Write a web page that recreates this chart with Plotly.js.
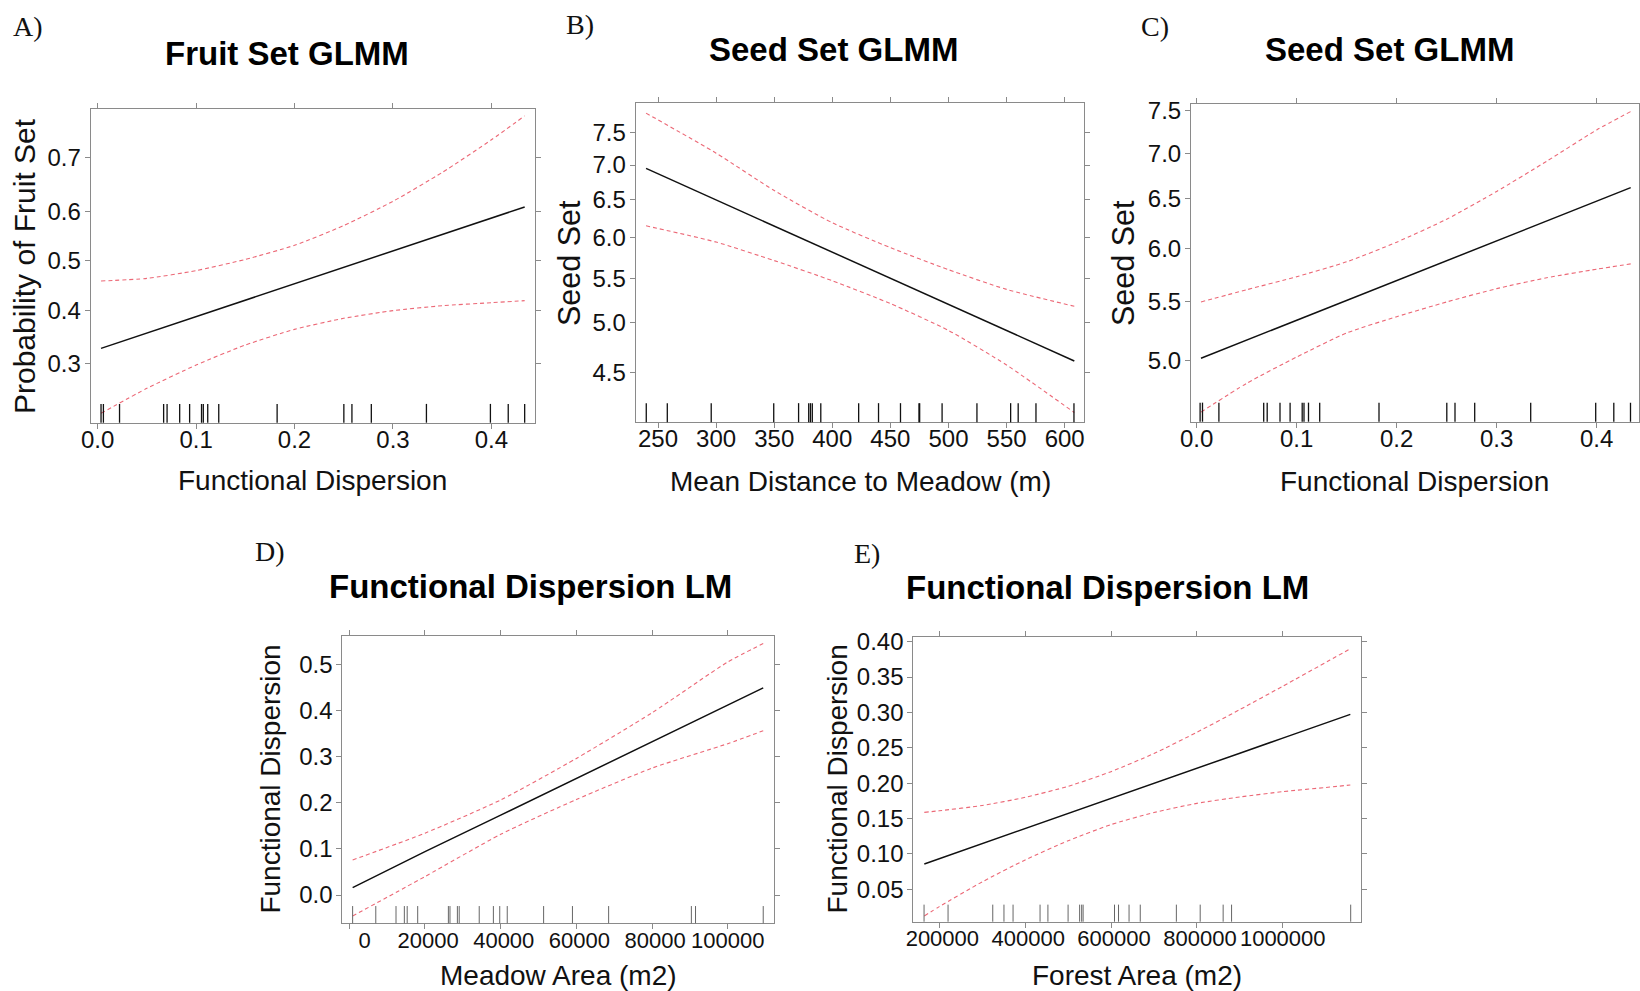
<!DOCTYPE html>
<html><head><meta charset="utf-8">
<script src="https://cdn.plot.ly/plotly-3.0.1.min.js"></script>
<style>html,body{margin:0;padding:0;background:#fff}#chart{width:1640px;height:991px}</style>
</head><body><div id="chart"></div>
<script>
// ---------- Panel A: Fruit Set GLMM vs Functional Dispersion ----------
const fruitX     = [0.0034, 0.05, 0.1, 0.15, 0.2, 0.25, 0.3, 0.35, 0.4, 0.4338];
const fruitFit   = [0.3276, 0.356, 0.3875, 0.420, 0.453, 0.487, 0.5205, 0.554, 0.587, 0.609];
const fruitUpper = [0.4587, 0.4641, 0.480, 0.503, 0.532, 0.572, 0.620, 0.674, 0.730, 0.767];
const fruitLower = [0.2222, 0.2597, 0.2982, 0.3337, 0.3629, 0.3841, 0.3991, 0.4089, 0.4149, 0.419];
const fruitTicks = [0.3, 0.4, 0.5, 0.6, 0.7];

// rug of Functional Dispersion values (panels A and C)
const fdRug = [0.0034, 0.0058, 0.0222, 0.0670, 0.0705, 0.0833, 0.0934, 0.1055, 0.1073, 0.1118, 0.1230,
               0.1823, 0.2501, 0.2583, 0.2780, 0.3340, 0.3990, 0.4171, 0.4338];

// ---------- Panel B: Seed Set GLMM vs Mean Distance to Meadow ----------
const distX     = [239.7, 300, 350, 400, 450, 500, 550, 608.3];
const distFit   = [6.95, 6.50, 6.15, 5.81, 5.50, 5.20, 4.92, 4.61];
const distUpper = [7.82, 7.18, 6.63, 6.19, 5.87, 5.60, 5.37, 5.18];
const distLower = [6.15, 5.94, 5.71, 5.47, 5.21, 4.92, 4.57, 4.13];
const distRug   = [239.9, 258.0, 295.8, 349.6, 371.0, 379.7, 381.2, 382.8, 390.1, 422.7, 439.8,
                   458.7, 474.6, 475.2, 494.5, 524.5, 553.5, 560.0, 575.3, 608.0];

// ---------- Panel C: Seed Set GLMM vs Functional Dispersion ----------
const seedFdX     = [0.0043, 0.05, 0.1, 0.15, 0.2, 0.25, 0.3, 0.35, 0.4, 0.434];
const seedFdFit   = [5.02, 5.17, 5.34, 5.51, 5.69, 5.88, 6.07, 6.27, 6.48, 6.62];
const seedFdUpper = [5.50, 5.61, 5.73, 5.87, 6.06, 6.29, 6.58, 6.91, 7.27, 7.49];
const seedFdLower = [4.60, 4.82, 5.03, 5.23, 5.37, 5.50, 5.62, 5.72, 5.80, 5.85];

const seedTicks = [4.5, 5.0, 5.5, 6.0, 6.5, 7.0, 7.5];

// ---------- Panel D: Functional Dispersion LM vs Meadow Area ----------
const meadowX     = [882, 20000, 40000, 60000, 80000, 100000, 109365];
const meadowFit   = [0.016, 0.094, 0.173, 0.253, 0.332, 0.412, 0.449];
const meadowUpper = [0.076, 0.134, 0.206, 0.296, 0.395, 0.505, 0.545];
const meadowLower = [-0.0455, 0.040, 0.1315, 0.207, 0.275, 0.328, 0.356];
const meadowRug   = [882, 7000, 12340, 14545, 15300, 18070, 26180, 26600, 28560, 29040, 34330,
                     38070, 39750, 41730, 51340, 58960, 68520, 90380, 91480, 109365];
const meadowTicks = [0, 20000, 40000, 60000, 80000, 100000];

// ---------- Panel E: Functional Dispersion LM vs Forest Area ----------
const forestX     = [165049, 200000, 300000, 400000, 500000, 600000, 700000, 800000, 900000, 1000000, 1110000, 1157419];
const forestFit   = [0.0858, 0.0932, 0.1145, 0.1358, 0.1572, 0.1785, 0.1998, 0.2211, 0.2424, 0.2637, 0.2870, 0.2973];
const forestUpper = [0.1588, 0.1610, 0.1685, 0.1800, 0.1955, 0.2163, 0.2420, 0.2720, 0.3040, 0.3370, 0.3740, 0.3900];
const forestLower = [0.0123, 0.0255, 0.0605, 0.0915, 0.1185, 0.1415, 0.1585, 0.1715, 0.1805, 0.1880, 0.1945, 0.1974];
const forestRug   = [164500, 220400, 324500, 350600, 371800, 434700, 453000, 500000, 526900, 531600,
                     535000, 608100, 617500, 642000, 668100, 752200, 807700, 861200, 880800, 1158300];
const forestTicks = [200000, 400000, 600000, 800000, 1000000];
const fdTicks = [0.05, 0.10, 0.15, 0.20, 0.25, 0.30, 0.35, 0.40];

// ---------- helpers ----------
const W = 1640, H = 991;
const logit = p => Math.log(p / (1 - p));
const px = v => v / W;
const py = v => 1 - v / H;
const FONT = 'Liberation Sans, Arial, Helvetica, sans-serif';
const SERIF = 'Liberation Serif, Times New Roman, serif';
const NB = '\u00A0';
const padLabels = arr => {
  const s = arr.map(String);
  const m = Math.max(...s.map(t => t.length));
  return s.map(t => NB.repeat(m - t.length) + t);
};

const CI_COLOR = 'rgb(236,104,118)';
function fitTrace(x, y, xa, ya) {
  return {x, y, xaxis: xa, yaxis: ya, mode: 'lines', type: 'scatter',
          line: {color: '#111', width: 1.5}, hoverinfo: 'skip', showlegend: false};
}
function ciTrace(x, y, xa, ya) {
  return {x, y, xaxis: xa, yaxis: ya, mode: 'lines', type: 'scatter',
          line: {color: CI_COLOR, width: 1.1, dash: '4px,3px', shape: 'spline', smoothing: 0.6},
          hoverinfo: 'skip', showlegend: false};
}

const traces = [
  fitTrace(fruitX, fruitFit.map(logit), 'x', 'y'),
  ciTrace(fruitX, fruitUpper.map(logit), 'x', 'y'),
  ciTrace(fruitX, fruitLower.map(logit), 'x', 'y'),
  fitTrace(distX, distFit, 'x2', 'y2'),
  ciTrace(distX, distUpper, 'x2', 'y2'),
  ciTrace(distX, distLower, 'x2', 'y2'),
  fitTrace(seedFdX, seedFdFit, 'x3', 'y3'),
  ciTrace(seedFdX, seedFdUpper, 'x3', 'y3'),
  ciTrace(seedFdX, seedFdLower, 'x3', 'y3'),
  fitTrace(meadowX, meadowFit, 'x4', 'y4'),
  ciTrace(meadowX, meadowUpper, 'x4', 'y4'),
  ciTrace(meadowX, meadowLower, 'x4', 'y4'),
  fitTrace(forestX, forestFit, 'x5', 'y5'),
  ciTrace(forestX, forestUpper, 'x5', 'y5'),
  ciTrace(forestX, forestLower, 'x5', 'y5')
];

// rug marks as shapes in data-x / domain-y
const shapes = [];
function addRug(vals, xref, yref, color, width) {
  vals.forEach(v => shapes.push({type: 'line', xref, yref: yref + ' domain', x0: v, x1: v, y0: 0, y1: 0.06,
                                 line: {color, width}}));
}
addRug(fdRug, 'x', 'y', '#111', 1.3);
addRug(distRug, 'x2', 'y2', '#111', 1.3);
addRug(fdRug, 'x3', 'y3', '#111', 1.3);
addRug(meadowRug, 'x4', 'y4', '#666', 1);
addRug(forestRug, 'x5', 'y5', '#666', 1);

function ax(extra) {
  return Object.assign({
    showline: true, linecolor: '#8a8a8a', linewidth: 1, mirror: 'ticks',
    ticks: 'outside', ticklen: 5, tickwidth: 1, tickcolor: '#8a8a8a',
    showgrid: false, zeroline: false, fixedrange: true, tickangle: 0, automargin: false,
    tickfont: {family: FONT, size: 24, color: '#111'}
  }, extra);
}
const XS = {ticklabelstandoff: -10};
const YS = {ticklabelstandoff: -1};
const XW = {ticklabelstandoff: -8, tickfont: {family: FONT, size: 22, color: '#111'}};

const layout = {
  width: W, height: H, margin: {l: 0, r: 0, t: 0, b: 0},
  paper_bgcolor: '#fff', plot_bgcolor: '#fff', showlegend: false,
  font: {family: FONT, color: '#111'},
  xaxis:  ax(Object.assign({domain: [px(90.7), px(535)], anchor: 'y', range: [-0.0071, 0.4443],
              tickvals: [0, 0.1, 0.2, 0.3, 0.4], ticktext: ['0.0', '0.1', '0.2', '0.3', '0.4']}, XS)),
  yaxis:  ax(Object.assign({domain: [py(422.7), py(109.3)], anchor: 'x', range: [logit(0.2092), logit(0.7765)],
              tickvals: fruitTicks.map(logit), ticktext: fruitTicks.map(v => v.toFixed(1))}, YS)),
  xaxis2: ax(Object.assign({domain: [px(635.7), px(1084.3)], anchor: 'y2', range: [230.8, 616.9],
              tickvals: [250, 300, 350, 400, 450, 500, 550, 600]}, XS)),
  yaxis2: ax(Object.assign({domain: [py(422.3), py(103.3)], anchor: 'x2', type: 'log', range: [0.6069, 0.9023],
              tickvals: seedTicks, ticktext: seedTicks.map(v => v.toFixed(1))}, YS)),
  xaxis3: ax(Object.assign({domain: [px(1191), px(1638.7)], anchor: 'y3', range: [-0.0057, 0.442],
              tickvals: [0, 0.1, 0.2, 0.3, 0.4], ticktext: ['0.0', '0.1', '0.2', '0.3', '0.4']}, XS)),
  yaxis3: ax(Object.assign({domain: [py(421.7), py(104)], anchor: 'x3', type: 'log', range: [0.6560, 0.8798],
              tickvals: seedTicks.filter(v => v >= 5), ticktext: seedTicks.filter(v => v >= 5).map(v => v.toFixed(1))}, YS)),
  xaxis4: ax(Object.assign({domain: [px(342.3), px(773.9)], anchor: 'y4', range: [-1849, 112188],
              tickvals: meadowTicks, ticktext: padLabels(meadowTicks)}, XW)),
  yaxis4: ax(Object.assign({domain: [py(923.3), py(636)], anchor: 'x4', range: [-0.0613, 0.5613],
              tickvals: [0, 0.1, 0.2, 0.3, 0.4, 0.5], ticktext: ['0.0', '0.1', '0.2', '0.3', '0.4', '0.5']}, YS)),
  xaxis5: ax(Object.assign({domain: [px(913.3), px(1361.4)], anchor: 'y5', range: [139429, 1183226],
              tickvals: forestTicks, ticktext: padLabels(forestTicks)}, XW)),
  yaxis5: ax(Object.assign({domain: [py(921.7), py(637.3)], anchor: 'x5', range: [0.0042, 0.4062],
              tickvals: fdTicks, ticktext: fdTicks.map(v => v.toFixed(2))}, YS)),
  shapes,
  annotations: []
};

function note(text, x, y, size, opts) {
  layout.annotations.push(Object.assign({
    text, xref: 'paper', yref: 'paper', x: px(x), y: py(y), xanchor: 'center', yanchor: 'middle',
    showarrow: false, font: {family: FONT, size, color: '#111'}
  }, opts || {}));
}
// panel letters
[['A)', 28, 27], ['B)', 580, 24], ['C)', 1155, 26], ['D)', 269.5, 551], ['E)', 867, 553]]
  .forEach(([t, x, y]) => note(t, x, y, 28, {font: {family: SERIF, size: 28, color: '#111'}}));
// panel titles
[['Fruit Set GLMM', 286.5, 54], ['Seed Set GLMM', 833.7, 50], ['Seed Set GLMM', 1389.4, 50],
 ['Functional Dispersion LM', 530, 586], ['Functional Dispersion LM', 1107, 587]]
  .forEach(([t, x, y]) => note(t, x, y, 33, {font: {family: FONT, size: 33, color: '#000', weight: 'bold'}}));
// x axis titles
[['Functional Dispersion', 312.8, 480], ['Mean Distance to Meadow (m)', 860, 481],
 ['Functional Dispersion', 1414.9, 481], ['Meadow Area (m2)', 558.1, 975], ['Forest Area (m2)', 1137.4, 975]]
  .forEach(([t, x, y]) => note(t, x, y, 28));
// y axis titles
[['Probability of Fruit Set', 25, 266, 30], ['Seed Set', 569, 263, 30.5], ['Seed Set', 1123, 263, 30.5],
 ['Functional Dispersion', 271, 779.6, 28], ['Functional Dispersion', 837, 779.5, 28]]
  .forEach(([t, x, y, s]) => note(t, x, y, s, {textangle: -90}));

Plotly.newPlot('chart', traces, layout, {staticPlot: true, displayModeBar: false});
</script>
</body></html>
